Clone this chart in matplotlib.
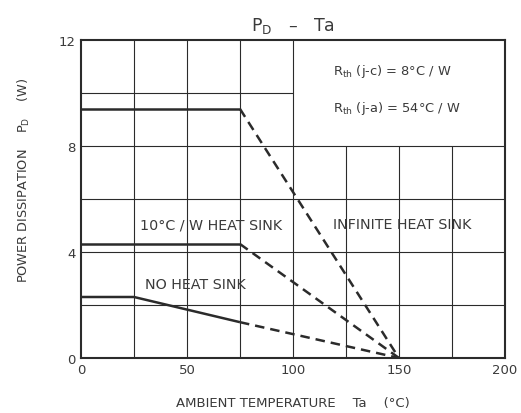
import matplotlib
matplotlib.use("Agg")
import matplotlib.pyplot as plt

plt.rcParams["font.family"] = ["DejaVu Sans"]
plt.rcParams["mathtext.fontset"] = "dejavusans"

# derating curves: (Ta, PD); the first n points are solid, the rest dashed
inf_ta = [0, 75, 150]
inf_pd = [9.4, 9.4, 0.0]
inf_solid = 2

hs10_ta = [0, 75, 150]
hs10_pd = [4.3, 4.3, 0.0]
hs10_solid = 2

nohs_ta = [0, 25, 75, 150]
nohs_pd = [2.3, 2.3, 1.35, 0.0]
nohs_solid = 3

x_ticks = [0, 50, 100, 150, 200]
y_ticks = [0, 4, 8, 12]

# grid layout (box for Rth text sits top right)
vgrid_full = [25, 50, 75, 100]
vgrid_low = [125, 150, 175]
hgrid_full = [2, 4, 6, 8]
hgrid_left = [10]

INK = "#2b2b2b"
TXT = "#3a3a3a"

fig = plt.figure(figsize=(5.21, 4.14), dpi=100)
ax = fig.add_axes([0.1555, 0.133, 0.8135, 0.768])
ax.set_xlim(0, 200)
ax.set_ylim(0, 12)

for x in vgrid_full:
    ax.vlines(x, 0, 12, color=INK, lw=0.8)
for x in vgrid_low:
    ax.vlines(x, 0, 8, color=INK, lw=0.8)
for y in hgrid_full:
    ax.hlines(y, 0, 200, color=INK, lw=0.8)
for y in hgrid_left:
    ax.hlines(y, 0, 100, color=INK, lw=0.8)


def curve(ta, pd_, n):
    ax.plot(ta[:n], pd_[:n], color=INK, lw=1.8, solid_capstyle="butt")
    ax.plot(ta[n - 1:], pd_[n - 1:], color=INK, lw=1.8, ls=(0, (3.8, 2.4)))


curve(inf_ta, inf_pd, inf_solid)
curve(hs10_ta, hs10_pd, hs10_solid)
curve(nohs_ta, nohs_pd, nohs_solid)

for s in ax.spines.values():
    s.set_color(INK)
    s.set_linewidth(1.5)

ax.set_xticks(x_ticks)
ax.set_yticks(y_ticks)
ax.set_xticklabels([str(v) for v in x_ticks])
ax.set_yticklabels([str(v) for v in y_ticks])
ax.tick_params(length=0, labelsize=9.5, labelcolor=TXT, pad=4)

ax.text(28, 5.05, "10°C / W HEAT SINK", fontsize=10.3, color=TXT, va="center")
ax.text(119, 5.05, "INFINITE HEAT SINK", fontsize=10.3, color=TXT, va="center")
ax.text(30, 2.8, "NO HEAT SINK", fontsize=10.3, color=TXT, va="center")
ax.text(119, 10.83, r"R$_{\rm th}$ (j-c) = 8°C / W", fontsize=9.4, color=TXT, va="center")
ax.text(119, 9.47, r"R$_{\rm th}$ (j-a) = 54°C / W", fontsize=9.4, color=TXT, va="center")

ax.set_title(r"P$_{\rm D}$   –   Ta", fontsize=12.5, color=TXT, pad=7)
ax.set_xlabel("AMBIENT TEMPERATURE    Ta    (°C)", fontsize=9.5, color=TXT, labelpad=14)
ax.set_ylabel(r"POWER DISSIPATION    P$_{\rm D}$    (W)", fontsize=9.3, color=TXT)
ax.yaxis.set_label_coords(-0.115, 0.563)

fig.savefig("out.png", dpi=100)
